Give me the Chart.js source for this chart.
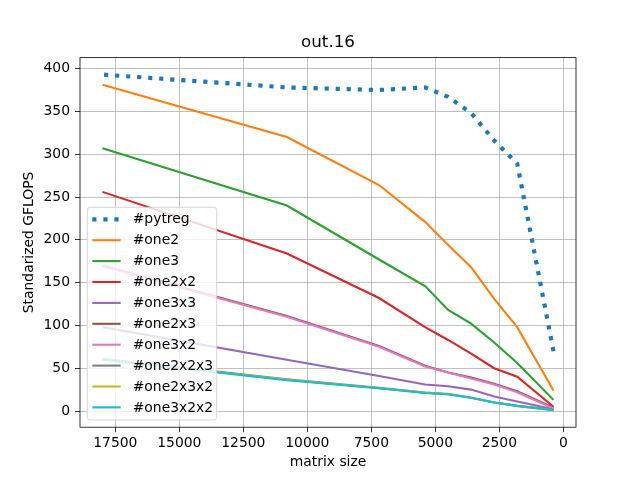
<!DOCTYPE html>
<html>
<head>
<meta charset="utf-8">
<script src="https://cdn.jsdelivr.net/npm/chart.js@4"></script>
<style>
body { margin: 0; background: #fff; }
canvas { display: block; }
</style>
</head>
<body>
<canvas id="chart" width="640" height="480"></canvas>
<script>
// matrix sizes (x axis, reversed)
const sizes = [18000, 10800, 7200, 5400, 4500, 3600, 2700, 1800, 384];

const seriesNames = ['#pytreg', '#one2', '#one3', '#one2x2', '#one3x3', '#one2x3', '#one3x2', '#one2x2x3', '#one2x3x2', '#one3x2x2'];

// GFLOPS
const pytreg   = [393, 378, 375, 378, 367, 348, 316, 289, 70];
const one2     = [381, 320, 264, 221, 194, 168, 131, 98, 24];
const one3     = [307, 240, 177, 146, 118, 102, 80, 56, 13];
const one2x2   = [256, 184, 132, 98, 83, 67, 50, 40, 5];
const one3x3   = [98, 60, 41, 31, 29, 25, 17, 11, 2];
const one2x3   = [170, 111, 76, 53, 45, 39, 32, 23, 4];
const one3x2   = [169, 110, 75, 52, 45, 38, 31, 22, 3];
const one2x2x3 = [61, 37, 27, 21.5, 19.5, 15.5, 10, 6, 1.5];
const one2x3x2 = [60.5, 36.5, 26.5, 21.5, 20, 15.5, 10, 6, 1];
const one3x2x2 = [60, 36, 26.5, 21, 19.5, 15.5, 10, 6, 1];

const xTicks = [0, 2500, 5000, 7500, 10000, 12500, 15000, 17500];
const yTicks = [0, 50, 100, 150, 200, 250, 300, 350, 400];

const colors = ['#1f77b4', '#ff7f0e', '#2ca02c', '#d62728', '#9467bd', '#8c564b', '#e377c2', '#7f7f7f', '#bcbd22', '#17becf'];
const allSeries = [pytreg, one2, one3, one2x2, one3x3, one2x3, one3x2, one2x2x3, one2x3x2, one3x2x2];

const FONT = 'DejaVu Sans';
const DOT = [4.17, 6.88];

const datasets = allSeries.map((vals, i) => {
    let pts = sizes.map((x, j) => ({x: x, y: vals[j]}));
    if (i === 0) pts = pts.reverse(); // pytreg was plotted from small to large sizes
    return {
        label: seriesNames[i],
        data: pts,
        borderColor: colors[i],
        borderWidth: i === 0 ? 4.17 : 2.08,
        borderDash: i === 0 ? DOT : [],
        pointRadius: 0,
        fill: false,
        tension: 0,
        order: -i
    };
});

// frame round the plot area
const frame = {
    id: 'frame',
    afterDatasetsDraw(chart) {
        const {ctx, chartArea: a} = chart;
        ctx.save();
        ctx.strokeStyle = '#000';
        ctx.lineWidth = 0.8;
        ctx.strokeRect(a.left, a.top, a.right - a.left, a.bottom - a.top);
        ctx.restore();
    }
};

// matplotlib style legend in the lower left corner
const legendBox = {
    id: 'legendBox',
    afterDraw(chart) {
        const {ctx, chartArea: a} = chart;
        const w = 129.4, h = 212.7, rowH = 20.9;
        const x0 = a.left + 7.3;
        const y0 = a.bottom - 7.2 - h;
        ctx.save();
        ctx.beginPath();
        ctx.roundRect(x0, y0, w, h, 2.8);
        ctx.fillStyle = 'rgba(255,255,255,0.8)';
        ctx.fill();
        ctx.strokeStyle = 'rgba(204,204,204,0.8)';
        ctx.lineWidth = 1;
        ctx.stroke();
        chart.data.datasets.forEach((ds, i) => {
            const y = y0 + 12 + i * rowH;
            ctx.beginPath();
            ctx.setLineDash(ds.borderDash);
            ctx.lineCap = 'butt';
            ctx.strokeStyle = ds.borderColor;
            ctx.lineWidth = ds.borderWidth;
            ctx.moveTo(x0 + 5, y);
            ctx.lineTo(x0 + 33.4, y);
            ctx.stroke();
            ctx.setLineDash([]);
            ctx.fillStyle = '#000';
            ctx.font = '13.9px "' + FONT + '"';
            ctx.textBaseline = 'middle';
            ctx.textAlign = 'left';
            ctx.fillText(ds.label, x0 + 45.4, y + 0.5);
        });
        ctx.restore();
    }
};

new Chart(document.getElementById('chart').getContext('2d'), {
    type: 'line',
    data: {datasets: datasets},
    options: {
        responsive: false,
        animation: false,
        devicePixelRatio: 1,
        events: [],
        layout: {padding: {left: 0, right: 64, top: 0, bottom: 0}},
        scales: {
            x: {
                type: 'linear',
                reverse: true,
                min: -496,
                max: 18880,
                afterBuildTicks: s => { s.ticks = xTicks.map(v => ({value: v})); },
                afterFit: s => { s.height = 52.8; },
                ticks: {
                    color: '#000',
                    font: {family: FONT, size: 13.9},
                    padding: 3,
                    maxRotation: 0,
                    autoSkip: false,
                    callback: v => String(v)
                },
                grid: {color: '#b0b0b0', lineWidth: 0.8, tickColor: '#000', tickLength: 5, tickWidth: 0.8},
                border: {display: false},
                title: {display: true, text: 'matrix size', color: '#000', font: {family: FONT, size: 13.9}, padding: {top: 0, bottom: 9.7}}
            },
            y: {
                type: 'linear',
                min: -18.9,
                max: 412.8,
                afterBuildTicks: s => { s.ticks = yTicks.map(v => ({value: v})); },
                afterFit: s => { s.width = 80; },
                ticks: {
                    color: '#000',
                    font: {family: FONT, size: 13.9},
                    padding: 5,
                    autoSkip: false,
                    callback: v => String(v)
                },
                grid: {color: '#b0b0b0', lineWidth: 0.8, tickColor: '#000', tickLength: 5, tickWidth: 0.8},
                border: {display: false},
                title: {display: true, text: 'Standarized GFLOPS', color: '#000', font: {family: FONT, size: 13.9}, padding: {top: 21.2, bottom: 0}}
            }
        },
        plugins: {
            legend: {display: false},
            tooltip: {enabled: false},
            title: {
                display: true,
                text: 'out.16',
                fullSize: false,
                color: '#000',
                font: {family: FONT, size: 16.7, weight: 'normal'},
                padding: {top: 33, bottom: 4.6}
            }
        }
    },
    plugins: [frame, legendBox]
});
</script>
</body>
</html>
